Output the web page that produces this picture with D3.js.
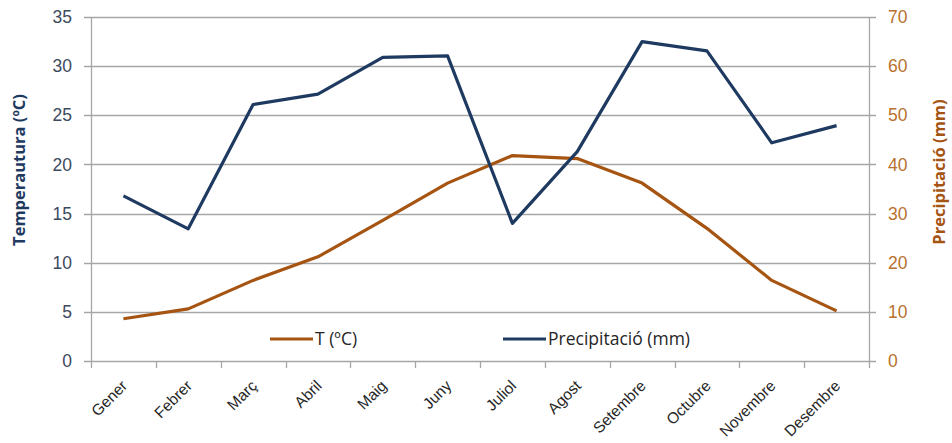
<!DOCTYPE html>
<html>
<head>
<meta charset="utf-8">
<script src="https://cdn.jsdelivr.net/npm/d3@7"></script>
<style>
  body { margin: 0; background: #fff; }
  svg { font-family: "Open Sans", "Noto Sans", sans-serif; }
</style>
</head>
<body>
<div id="chart"></div>
<script>
// Dades llegides del gràfic
const mesos = ["Gener", "Febrer", "Març", "Abril", "Maig", "Juny", "Juliol", "Agost", "Setembre", "Octubre", "Novembre", "Desembre"];
const temperatura = [4.3, 5.3, 8.2, 10.6, 14.3, 18.1, 20.9, 20.6, 18.1, 13.5, 8.2, 5.1];
const precipitacio = [33.6, 26.9, 52.2, 54.3, 61.8, 62.1, 28.0, 42.6, 65.0, 63.1, 44.4, 47.9];
const ticksTemp = [0, 5, 10, 15, 20, 25, 30, 35];
const ticksPrec = [0, 10, 20, 30, 40, 50, 60, 70];

const width = 952, height = 443;
const margin = { top: 17, right: 83, bottom: 82, left: 91 };
const w = width - margin.left - margin.right;
const h = height - margin.top - margin.bottom;

const colTemp = "#a65412";
const colPrec = "#1f3a60";

const svg = d3.select("#chart").append("svg")
  .attr("width", width)
  .attr("height", height);

const g = svg.append("g")
  .attr("transform", "translate(" + margin.left + "," + margin.top + ")");

const x = d3.scaleBand().domain(mesos).range([0, w]);
const yT = d3.scaleLinear().domain([0, 35]).range([h, 0]);
const yP = d3.scaleLinear().domain([0, 70]).range([h, 0]);

// línies de graella
g.append("g")
  .selectAll("line")
  .data(ticksTemp)
  .enter()
  .append("line")
  .attr("x1", -7)
  .attr("x2", w + 7)
  .attr("y1", d => Math.round(yT(d)) + 0.5)
  .attr("y2", d => Math.round(yT(d)) + 0.5)
  .attr("stroke", "#a6a6a6")
  .attr("stroke-width", 1.3);

// eix esquerre
const axisL = g.append("g")
  .call(d3.axisLeft(yT).tickValues(ticksTemp).tickSize(0).tickPadding(19));
axisL.select(".domain").attr("stroke", "#a6a6a6").attr("stroke-width", 1.3);
axisL.selectAll("text")
  .attr("fill", "#3d4a5e")
  .attr("font-size", "17.5px");

// eix dret
const axisR = g.append("g")
  .attr("transform", "translate(" + w + ",0)")
  .call(d3.axisRight(yP).tickValues(ticksPrec).tickSize(0).tickPadding(19));
axisR.select(".domain").attr("stroke", "#a6a6a6").attr("stroke-width", 1.3);
axisR.selectAll("text")
  .attr("fill", "#b8712e")
  .attr("font-size", "17.5px");

// eix inferior
const axisB = g.append("g")
  .attr("transform", "translate(0," + h + ")")
  .call(d3.axisBottom(x).tickSize(0));
axisB.select(".domain").remove();
axisB.selectAll(".tick line").remove();
axisB.selectAll("text")
  .attr("fill", "#262626")
  .attr("font-size", "15.5px")
  .style("text-anchor", "end")
  .attr("x", 0)
  .attr("y", 0)
  .attr("dy", "0.35em")
  .attr("transform", "translate(1,22) rotate(-45)");

// marques entre categories
const vores = mesos.map(m => x(m)).concat([w]);
g.append("g")
  .selectAll("line")
  .data(vores)
  .enter()
  .append("line")
  .attr("x1", d => Math.round(d) + 0.5)
  .attr("x2", d => Math.round(d) + 0.5)
  .attr("y1", h)
  .attr("y2", h + 7)
  .attr("stroke", "#a6a6a6")
  .attr("stroke-width", 1.3);

// sèries
const lineT = d3.line()
  .x((d, i) => x(mesos[i]) + x.bandwidth() / 2)
  .y(d => yT(d));
const lineP = d3.line()
  .x((d, i) => x(mesos[i]) + x.bandwidth() / 2)
  .y(d => yP(d));

g.append("path")
  .datum(temperatura)
  .attr("d", lineT)
  .attr("fill", "none")
  .attr("stroke", colTemp)
  .attr("stroke-width", 3.2)
  .attr("stroke-linejoin", "round");

g.append("path")
  .datum(precipitacio)
  .attr("d", lineP)
  .attr("fill", "none")
  .attr("stroke", colPrec)
  .attr("stroke-width", 3.2)
  .attr("stroke-linejoin", "round");

// títols dels eixos
svg.append("text")
  .attr("transform", "translate(25,170) rotate(-90)")
  .attr("text-anchor", "middle")
  .attr("font-size", "16.5px")
  .attr("font-weight", "bold")
  .attr("fill", "#1f3a60")
  .text("Temperautura (ºC)");

svg.append("text")
  .attr("transform", "translate(945,172) rotate(-90)")
  .attr("text-anchor", "middle")
  .attr("font-size", "16.5px")
  .attr("font-weight", "bold")
  .attr("fill", "#a65412")
  .text("Precipitació (mm)");

// llegenda
const legend = [
  { name: "T (ºC)", color: colTemp, x: 270 },
  { name: "Precipitació (mm)", color: colPrec, x: 503 }
];
const lg = svg.append("g")
  .selectAll("g")
  .data(legend)
  .enter()
  .append("g")
  .attr("transform", d => "translate(" + d.x + ",339)");
lg.append("line")
  .attr("x1", 0)
  .attr("x2", 43)
  .attr("stroke", d => d.color)
  .attr("stroke-width", 3.2);
lg.append("text")
  .attr("x", 45)
  .attr("dy", "0.35em")
  .attr("font-size", "17.5px")
  .attr("fill", "#262626")
  .text(d => d.name);
</script>
</body>
</html>
